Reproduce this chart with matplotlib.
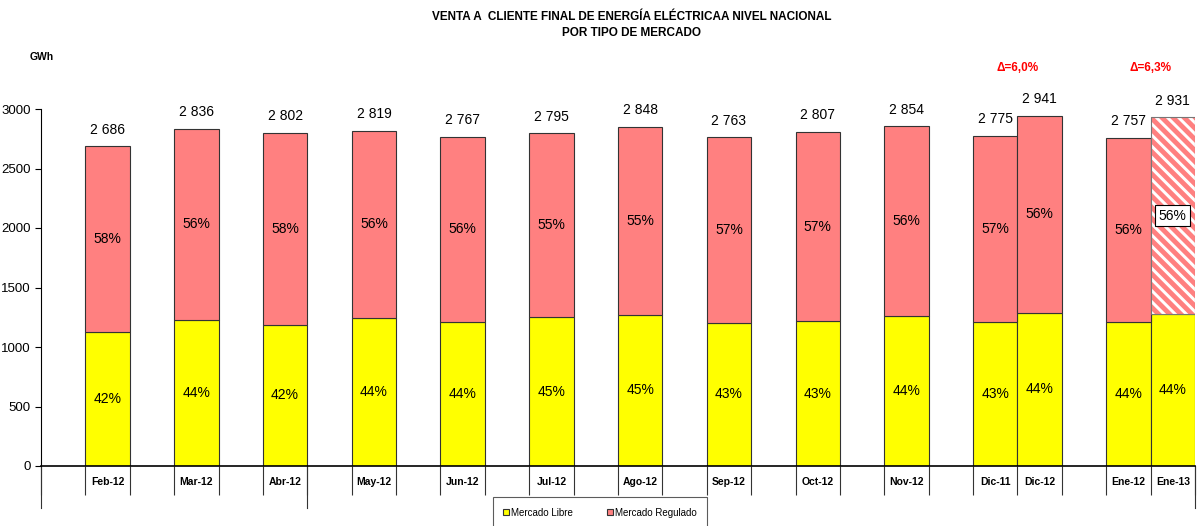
import matplotlib
matplotlib.use('Agg')
import matplotlib.pyplot as plt
import matplotlib.transforms as mtransforms
import numpy as np

plt.rcParams['font.family'] = ['Liberation Sans', 'DejaVu Sans']
plt.rcParams['hatch.linewidth'] = 3.5

# slot layout of the category axis ('' = empty gap slot)
slots = ['', 'Feb-12', '', 'Mar-12', '', 'Abr-12', '', 'May-12', '', 'Jun-12', '',
         'Jul-12', '', 'Ago-12', '', 'Sep-12', '', 'Oct-12', '', 'Nov-12', '',
         'Dic-11', 'Dic-12', '', 'Ene-12', 'Ene-13']

months = ['Feb-12', 'Mar-12', 'Abr-12', 'May-12', 'Jun-12', 'Jul-12', 'Ago-12',
          'Sep-12', 'Oct-12', 'Nov-12', 'Dic-11', 'Dic-12', 'Ene-12', 'Ene-13']
total = [2686, 2836, 2802, 2819, 2767, 2795, 2848, 2763, 2807, 2854, 2775, 2941, 2757, 2931]
libre = [1126, 1227, 1185, 1244, 1210, 1252, 1269, 1202, 1218, 1260, 1210, 1286, 1210, 1277]
pct_libre = [42, 44, 42, 44, 44, 45, 45, 43, 43, 44, 43, 44, 44, 44]
pct_regulado = [58, 56, 58, 56, 56, 55, 55, 57, 57, 56, 57, 56, 56, 56]
deltas = [('Dic-11', 'Dic-12', '\u0394=6,0%'), ('Ene-12', 'Ene-13', '\u0394=6,3%')]
projected = 'Ene-13'
group_lines = [0, 6, 26]  # slot boundaries with long separator lines

YELLOW = '#FFFF00'
SALMON = '#FF8080'

fig = plt.figure(figsize=(11.97, 5.26), dpi=100)
ax = fig.add_axes([41 / 1197, 60 / 526, 1154 / 1197, 357 / 526])

x = np.array([slots.index(m) for m in months])
regulado = np.array(total) - np.array(libre)

ax.bar(x, libre, width=1.0, color=YELLOW, edgecolor='#333333', linewidth=0.8,
       label='Mercado Libre')
for i, m in enumerate(months):
    if m == projected:
        # hatch takes the edge colour, so draw the stripes and outline separately
        ax.bar(x[i], regulado[i], bottom=libre[i], width=1.0, color='white',
               edgecolor=SALMON, hatch='\\\\\\', linewidth=0)
        ax.bar(x[i], regulado[i], bottom=libre[i], width=1.0, fill=False,
               edgecolor='#777777', linewidth=0.8)
    else:
        ax.bar(x[i], regulado[i], bottom=libre[i], width=1.0, color=SALMON,
               edgecolor='#333333', linewidth=0.8,
               label='Mercado Regulado' if i == 0 else None)

for i, m in enumerate(months):
    ax.annotate(f'{total[i] // 1000} {total[i] % 1000:03d}', (x[i], total[i]),
                xytext=(0, 12), textcoords='offset points', ha='center',
                va='center', fontsize=10)
    ax.text(x[i], libre[i] / 2, f'{pct_libre[i]}%', ha='center', va='center',
            fontsize=10)
    box = None
    if m == projected:
        box = dict(boxstyle='square,pad=0.25', fc='white', ec='black', lw=0.8)
    ax.text(x[i], libre[i] + regulado[i] / 2, f'{pct_regulado[i]}%', ha='center',
            va='center', fontsize=10, bbox=box)

# delta labels over compared pairs
tr = mtransforms.blended_transform_factory(ax.transData, fig.transFigure)
for a, b, lbl in deltas:
    xc = (slots.index(a) + slots.index(b)) / 2
    ax.text(xc, 1 - 68 / 526, lbl, transform=tr, ha='center', va='center',
            color='red', fontsize=8.5, fontweight='bold')

ax.set_xlim(-0.5, len(slots) - 0.5)
ax.set_ylim(0, 3000)
ax.set_yticks(np.arange(0, 3001, 500))
ax.tick_params(axis='y', labelsize=9.5, length=4, width=0.8)
ax.set_xticks(np.arange(len(slots) + 1) - 0.5)
ax.set_xticklabels([])
ax.tick_params(axis='x', which='major', length=21, width=0.8, color='#333333')
ax.set_xticks(np.arange(len(slots)), minor=True)
ax.set_xticklabels(slots, minor=True, fontsize=7.5, fontweight='bold')
ax.tick_params(axis='x', which='minor', length=0, pad=8)
ax.spines['top'].set_visible(False)
ax.spines['right'].set_visible(False)
ax.spines['bottom'].set_linewidth(1.2)
ax.spines['left'].set_linewidth(0.8)

tra = mtransforms.blended_transform_factory(ax.transData, ax.transAxes)
for g in group_lines:
    ax.plot([g - 0.5, g - 0.5], [0, -42 / 357], transform=tra, color='#333333',
            lw=0.8, clip_on=False)

fig.text(632 / 1197, 1 - 17 / 526, 'VENTA A  CLIENTE FINAL DE ENERGÍA ELÉCTRICAA NIVEL NACIONAL',
         ha='center', va='center', fontsize=8.5, fontweight='bold')
fig.text(632 / 1197, 1 - 33 / 526, 'POR TIPO DE MERCADO', ha='center', va='center',
         fontsize=8.5, fontweight='bold')
fig.text(42 / 1197, 1 - 57 / 526, 'GWh', ha='center', va='center', fontsize=7.5,
         fontweight='bold')

leg = fig.legend(loc='upper center', bbox_to_anchor=(600 / 1197, 1 - 497 / 526), ncol=2,
                 fontsize=7, frameon=True, fancybox=False, edgecolor='#333333',
                 handlelength=0.6, handleheight=0.6, handletextpad=0.2,
                 columnspacing=3.5, borderpad=1.1, borderaxespad=0)
leg.get_frame().set_linewidth(0.8)

fig.savefig('out.png', dpi=100)
